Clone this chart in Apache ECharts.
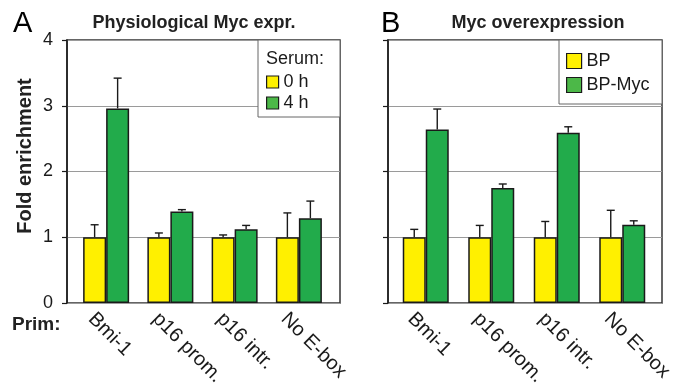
<!DOCTYPE html>
<html>
<head>
<meta charset="utf-8">
<script src="https://cdn.jsdelivr.net/npm/echarts@6/dist/echarts.min.js"></script>
<style>html,body{margin:0;padding:0;background:#fff}#c{width:682px;height:383px}</style>
</head>
<body>
<div id="c"></div>
<script>
// ---- data ----
var categories = ['Bmi-1', 'p16 prom.', 'p16 intr.', 'No E-box'];
var yTicks = [0, 1, 2, 3, 4];
// Panel A: Physiological Myc expr. (Serum 0 h / 4 h)
var serum0h = [1, 1, 1, 1];
var serum0hErr = [0.19, 0.065, 0.035, 0.37];
var serum4h = [2.96, 1.39, 1.12, 1.29];
var serum4hErr = [0.46, 0.03, 0.06, 0.26];
// Panel B: Myc overexpression (BP / BP-Myc)
var bp = [1, 1, 1, 1];
var bpErr = [0.12, 0.18, 0.24, 0.41];
var bpMyc = [2.64, 1.75, 2.59, 1.19];
var bpMycErr = [0.31, 0.06, 0.09, 0.06];

var FONT = '"Liberation Sans", Arial, sans-serif';
var YELLOW = '#fff000', GREEN = '#22ab4b', LGREEN = '#4cb848';
var INK = '#1a1a1a';

function errData(vals, errs) {
  return vals.map(function (v, i) { return [i, v, errs[i]]; });
}
function errRender(side) {
  return function (params, api) {
    var i = api.value(0), v = api.value(1), e = api.value(2);
    var b = api.coord([i, v]);
    var t = api.coord([i, v + e]);
    var x = b[0] + side * 11.5;
    var st = { stroke: INK, lineWidth: 1.4 };
    return {
      type: 'group',
      children: [
        { type: 'line', shape: { x1: x, y1: b[1], x2: x, y2: t[1] }, style: st },
        { type: 'line', shape: { x1: x - 4, y1: t[1], x2: x + 4, y2: t[1] }, style: st }
      ]
    };
  };
}

var chart = echarts.init(document.getElementById('c'), null, { renderer: 'canvas' });

function frameY(showLabels) {
  return {
    type: 'value', min: yTicks[0], max: yTicks[yTicks.length - 1], interval: 1,
    axisLine: { show: true, lineStyle: { color: INK, width: 1.5 } },
    axisTick: { show: true, length: 5, lineStyle: { color: INK, width: 1.2 } },
    axisLabel: { show: showLabels, fontSize: 18, color: INK, fontFamily: FONT, margin: 14 },
    splitLine: { show: true, lineStyle: { color: '#9a9a9a', width: 1 } }
  };
}
function hiddenY() {
  return { type: 'value', min: 0, max: 4, show: false, splitLine: { show: false } };
}
function catX(gi) {
  return {
    type: 'category', gridIndex: gi, data: categories,
    axisLine: { show: false }, axisTick: { show: false },
    axisLabel: {
      interval: 0, rotate: -45, fontSize: 20, color: INK, fontFamily: FONT,
      align: 'left', verticalAlign: 'top', padding: [11, 0, 0, 0], margin: -2
    },
    splitLine: { show: false }
  };
}

var option = {
  backgroundColor: '#fff',
  animation: false,
  grid: [
    { left: 67, top: 40, width: 273, height: 263, show: true, borderColor: '#333', borderWidth: 1.5, backgroundColor: 'transparent', containLabel: false, outerBoundsMode: 'none' },
    { left: 388, top: 40, width: 274, height: 263, show: true, borderColor: '#333', borderWidth: 1.5, backgroundColor: 'transparent', containLabel: false, outerBoundsMode: 'none' },
    { left: 74, top: 40, width: 257, height: 263, containLabel: false, outerBoundsMode: 'none' },
    { left: 393, top: 40, width: 262, height: 263, containLabel: false, outerBoundsMode: 'none' }
  ],
  xAxis: [
    { type: 'value', gridIndex: 0, min: 0, max: 1, show: false, splitLine: { show: false } },
    { type: 'value', gridIndex: 1, min: 0, max: 1, show: false, splitLine: { show: false } },
    catX(2),
    catX(3)
  ],
  yAxis: [
    Object.assign(frameY(true), { gridIndex: 0 }),
    Object.assign(frameY(false), { gridIndex: 1 }),
    Object.assign(hiddenY(), { gridIndex: 2 }),
    Object.assign(hiddenY(), { gridIndex: 3 })
  ],
  legend: [
    {
      orient: 'vertical', left: 266, top: 73, padding: 0, itemGap: 3,
      itemWidth: 12, itemHeight: 12, icon: 'rect',
      textStyle: { fontSize: 18, color: INK, fontFamily: FONT },
      data: [
        { name: '0 h', itemStyle: { color: YELLOW, borderColor: INK, borderWidth: 1.2 } },
        { name: '4 h', itemStyle: { color: LGREEN, borderColor: INK, borderWidth: 1.2 } }
      ],
      selectedMode: false
    },
    {
      orient: 'vertical', left: 566, top: 52, padding: 0, itemGap: 6,
      itemWidth: 15, itemHeight: 15, icon: 'rect',
      textStyle: { fontSize: 18, color: INK, fontFamily: FONT },
      data: [
        { name: 'BP', itemStyle: { color: YELLOW, borderColor: INK, borderWidth: 1.2 } },
        { name: 'BP-Myc', itemStyle: { color: LGREEN, borderColor: INK, borderWidth: 1.2 } }
      ],
      selectedMode: false
    }
  ],
  graphic: [
    { type: 'rect', z: 3, shape: { x: 258, y: 40, width: 82, height: 77 }, style: { fill: '#fff', stroke: '#666', lineWidth: 1 } },
    { type: 'rect', z: 3, shape: { x: 559, y: 40, width: 103, height: 64 }, style: { fill: '#fff', stroke: '#666', lineWidth: 1 } },
    { type: 'text', z: 4, x: 266, y: 59, style: { text: 'Serum:', fontSize: 18, fill: INK, fontFamily: FONT, textVerticalAlign: 'middle' } },
    { type: 'text', z: 4, x: 13, y: 24, style: { text: 'A', fontSize: 29, fill: '#000', fontFamily: FONT, textVerticalAlign: 'middle' } },
    { type: 'text', z: 4, x: 381, y: 24, style: { text: 'B', fontSize: 29, fill: '#000', fontFamily: FONT, textVerticalAlign: 'middle' } },
    { type: 'text', z: 4, x: 194, y: 23, style: { text: 'Physiological Myc expr.', fontSize: 18, fontWeight: 'bold', fill: '#222', fontFamily: FONT, textAlign: 'center', textVerticalAlign: 'middle' } },
    { type: 'text', z: 4, x: 538, y: 23, style: { text: 'Myc overexpression', fontSize: 18, fontWeight: 'bold', fill: '#222', fontFamily: FONT, textAlign: 'center', textVerticalAlign: 'middle' } },
    { type: 'text', z: 4, x: 25, y: 156, rotation: Math.PI / 2, style: { text: 'Fold enrichment', fontSize: 20, fontWeight: 'bold', fill: '#222', fontFamily: FONT, textAlign: 'center', textVerticalAlign: 'middle' } },
    { type: 'text', z: 4, x: 12, y: 325, style: { text: 'Prim:', fontSize: 19, fontWeight: 'bold', fill: '#222', fontFamily: FONT, textVerticalAlign: 'middle' } }
  ],
  series: [
    { name: '0 h', type: 'bar', xAxisIndex: 2, yAxisIndex: 2, data: serum0h, barWidth: 23, barGap: '0%',
      itemStyle: { color: YELLOW, borderColor: INK, borderWidth: 1.5 } },
    { name: '4 h', type: 'bar', xAxisIndex: 2, yAxisIndex: 2, data: serum4h, barWidth: 23, barGap: '0%',
      itemStyle: { color: GREEN, borderColor: INK, borderWidth: 1.5 } },
    { name: 'e0', type: 'custom', xAxisIndex: 2, yAxisIndex: 2, data: errData(serum0h, serum0hErr), renderItem: errRender(-1), z: 3, encode: { x: 0, y: 1 } },
    { name: 'e4', type: 'custom', xAxisIndex: 2, yAxisIndex: 2, data: errData(serum4h, serum4hErr), renderItem: errRender(1), z: 3, encode: { x: 0, y: 1 } },
    { name: 'BP', type: 'bar', xAxisIndex: 3, yAxisIndex: 3, data: bp, barWidth: 23, barGap: '0%',
      itemStyle: { color: YELLOW, borderColor: INK, borderWidth: 1.5 } },
    { name: 'BP-Myc', type: 'bar', xAxisIndex: 3, yAxisIndex: 3, data: bpMyc, barWidth: 23, barGap: '0%',
      itemStyle: { color: GREEN, borderColor: INK, borderWidth: 1.5 } },
    { name: 'eb', type: 'custom', xAxisIndex: 3, yAxisIndex: 3, data: errData(bp, bpErr), renderItem: errRender(-1), z: 3, encode: { x: 0, y: 1 } },
    { name: 'em', type: 'custom', xAxisIndex: 3, yAxisIndex: 3, data: errData(bpMyc, bpMycErr), renderItem: errRender(1), z: 3, encode: { x: 0, y: 1 } }
  ]
};
chart.setOption(option);
</script>
</body>
</html>
